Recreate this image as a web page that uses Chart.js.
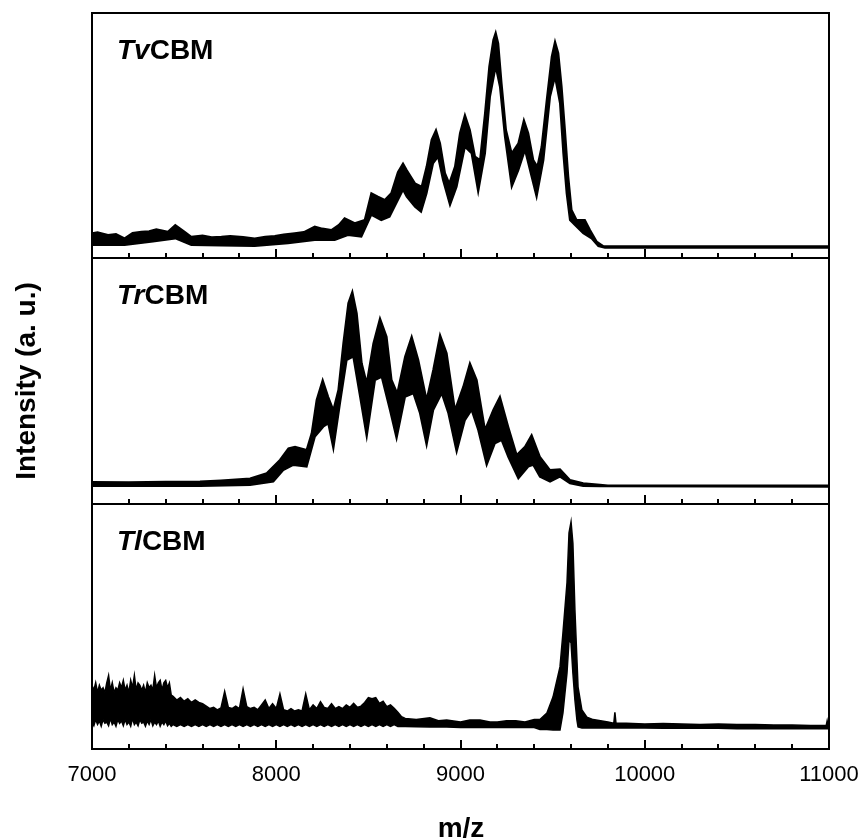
<!DOCTYPE html>
<html>
<head>
<meta charset="utf-8">
<script src="https://cdn.jsdelivr.net/npm/chart.js@4.4.1/dist/chart.umd.min.js"></script>
<style>
  html, body { margin: 0; padding: 0; background: #fff; }
  #wrap { position: relative; width: 862px; height: 840px; }
  #wrap canvas { position: absolute; left: 0; top: 0; }
</style>
</head>
<body>
<div id="wrap">
  <canvas id="tv" width="862" height="840"></canvas>
  <canvas id="tr" width="862" height="840"></canvas>
  <canvas id="tl" width="862" height="840"></canvas>
</div>
<script>
// x axis
const majorTicks = [7000, 8000, 9000, 10000, 11000];
const minorTicks = [7200, 7400, 7600, 7800, 8200, 8400, 8600, 8800, 9200, 9400, 9600, 9800,
  10200, 10400, 10600, 10800];

// TvCBM (top panel): upper and lower edge of the noisy trace, intensity in % of panel height
const tvHighMz = [7000, 7030, 7087, 7130, 7177, 7220, 7268, 7310, 7349, 7412, 7452, 7503, 7539, 7600, 7650,
  7702, 7750, 7820, 7883, 7940, 7992, 8040, 8100, 8150, 8209, 8250, 8299, 8340, 8371, 8426, 8480, 8516,
  8552, 8589, 8624, 8660, 8688, 8708, 8753, 8789, 8816, 8843, 8867, 8889, 8916, 8939, 8970, 8997, 9024,
  9051, 9079, 9106, 9133, 9156, 9178, 9191, 9205, 9223, 9247, 9278, 9314, 9344, 9368, 9395, 9417, 9440,
  9468, 9495, 9513, 9531, 9549, 9567, 9585, 9603, 9630, 9675, 9703, 9739, 9775, 9850, 11000];
const tvHigh = [10.1, 10.5, 9.4, 9.8, 8, 10.2, 10.7, 10.9, 11.7, 10.7, 13.5, 10.7, 8.7, 9.2, 8.5,
  8.7, 9, 8.6, 8, 8.7, 9, 9.6, 10.1, 10.6, 12.8, 12, 11.4, 13.5, 16.2, 14.2, 15.5, 26.4,
  25, 23.7, 26.4, 35, 38.6, 35.9, 30.5, 29.1, 37.3, 48.2, 52.2, 46.8, 34.6, 30.5, 37.3, 50.9, 58.4,
  52.2, 41.4, 40, 59.1, 78.1, 89, 92, 87.6, 71.3, 52.2, 42.7, 46.8, 56.3, 50.9, 40, 37.3, 45.4,
  64.5, 82.2, 88.3, 83.6, 69.9, 52.2, 33.2, 19.6, 15.5, 15.5, 11.4, 6.7, 4.9, 4.8, 4.8];
const tvLowMz = [7000, 7177, 7331, 7452, 7539, 7700, 7883, 8064, 8209, 8317, 8389, 8462, 8516, 8570, 8615,
  8688, 8708, 8753, 8786, 8816, 8851, 8878, 8905, 8943, 8979, 9024, 9060, 9096, 9133, 9160, 9191, 9214,
  9241, 9278, 9314, 9350, 9386, 9413, 9450, 9486, 9513, 9540, 9558, 9576, 9594, 9621, 9666, 9711, 9748,
  9784, 11000];
const tvLow = [5.3, 5.3, 6.7, 8, 5.3, 5.1, 4.9, 6, 7.3, 7.3, 9.4, 8.7, 17.6, 15.5, 16.9,
  27.8, 25, 20.9, 18.9, 26.4, 38.6, 41.4, 31.8, 21.6, 29.1, 45.4, 42.7, 27.1, 42.7, 65.8, 78.1, 69.9,
  49.5, 29.1, 35.9, 44.1, 33.2, 25, 40, 65.8, 74, 63.1, 42.7, 26.4, 15.5, 13.5, 10.1, 8, 4.9,
  4.2, 4.2];

// TrCBM (middle panel)
const trHighMz = [7000, 7200, 7400, 7586, 7700, 7858, 7948, 8020, 8066, 8102, 8165, 8192, 8219, 8252, 8282,
  8310, 8337, 8364, 8391, 8413, 8437, 8464, 8491, 8527, 8563, 8599, 8626, 8657, 8699, 8735, 8771, 8816,
  8852, 8889, 8925, 8970, 9015, 9051, 9088, 9133, 9178, 9214, 9259, 9305, 9350, 9386, 9431, 9486, 9540,
  9594, 9666, 9757, 9800, 11000];
const trHigh = [8.9, 8.8, 9, 9.1, 9.6, 10.4, 12.5, 17.9, 22.6, 23.3, 22, 28.7, 42.3, 50.4, 43.6,
  38.2, 46.3, 65.3, 81.6, 86.3, 77.5, 57.2, 49.1, 65.3, 75.5, 68, 50.4, 45, 59.9, 68, 58.5, 42.3,
  54.5, 68.7, 61.3, 38.2, 47.7, 57.2, 50.4, 30.1, 38.2, 43.6, 31.4, 19.9, 23.3, 28, 19.2, 13.8, 14.1,
  9.8, 8.4, 7.8, 7.5, 7.5];
const trLowMz = [7000, 7586, 7858, 7984, 8038, 8093, 8165, 8210, 8255, 8282, 8310, 8346, 8382, 8418, 8455,
  8491, 8536, 8572, 8617, 8653, 8699, 8744, 8780, 8816, 8852, 8898, 8934, 8979, 9024, 9060, 9096, 9142,
  9187, 9223, 9259, 9314, 9368, 9395, 9431, 9486, 9540, 9594, 9666, 9757, 11000];
const trLow = [7.3, 7.3, 7.7, 9.1, 13.8, 15.9, 15.2, 27.4, 31.4, 32.8, 22.6, 40.9, 58.5, 59.9, 43.6,
  27.4, 50.4, 51.7, 38.2, 26.7, 43.6, 45, 36.9, 24, 38.2, 45, 36.9, 21.3, 34.1, 38.2, 30.1, 15.9,
  24.7, 26, 19.2, 10.4, 15.2, 15.9, 11.1, 9.1, 11.1, 8.4, 7.3, 7.2, 7];

// TlCBM (bottom panel)
const tlMz = [7000, 7010, 7020, 7030, 7040, 7050, 7060, 7070, 7080, 7090, 7100, 7110, 7120, 7130, 7140,
  7150, 7160, 7170, 7180, 7190, 7200, 7210, 7220, 7230, 7240, 7250, 7260, 7270, 7280, 7290, 7300, 7310,
  7320, 7330, 7340, 7350, 7360, 7370, 7380, 7390, 7400, 7410, 7420, 7430,
  7440, 7460, 7480, 7500, 7520, 7540, 7560, 7580, 7600, 7620, 7640, 7660, 7680, 7700, 7720, 7740, 7760,
  7780, 7800, 7820, 7840, 7860, 7880, 7900, 7920, 7940, 7960, 7980, 8000, 8020, 8040, 8060, 8080, 8100,
  8120, 8140, 8160, 8180, 8200, 8220, 8240, 8260, 8280, 8300, 8320, 8340, 8360, 8380, 8400, 8420, 8440,
  8460, 8480, 8500, 8520, 8540, 8560, 8580, 8600, 8620, 8640, 8660, 8680, 8700,
  8760, 8834, 8880, 8925, 9000, 9050, 9106, 9160, 9200, 9250, 9300, 9350, 9400, 9431, 9469, 9502, 9540,
  9556, 9578, 9589, 9600, 9610, 9621, 9632, 9638, 9659, 9686, 9720, 9800, 9832, 9838, 9844, 9900, 10000,
  10100, 10200, 10300, 10400, 10500, 10600, 10700, 10800, 10900, 10985, 10990, 10995, 11000];
const tlHigh = [26, 24, 27, 23, 26, 24, 25, 23, 27, 30, 24, 27, 23, 25, 24,
  27, 25, 28, 24, 26, 23, 28, 25, 30, 24, 27, 26, 24, 26, 23, 27, 25,
  26, 24, 30, 25, 27, 28, 24, 27, 28, 25, 27, 22,
  21.5, 20, 21, 19.5, 20.5, 19, 20, 19, 18.5, 17.5, 16.5, 17, 16, 16.8, 23.5, 17, 16.5,
  17.5, 16.5, 24.5, 17.3, 16.5, 17, 16, 18, 20, 16.5, 18.5, 16.5, 22.5, 16, 15.5, 16.5, 15.5,
  16, 15.5, 22.5, 16, 18, 16.5, 19.3, 17, 16.5, 18.5, 16.5, 17.3, 16.5, 18, 17, 18.6, 17,
  17.5, 19, 21, 20.5, 21, 18.6, 19.5, 17.3, 18, 16.6, 15, 13.2, 12.5,
  12, 12.7, 11.5, 11.8, 11, 11.8, 11.8, 11, 11, 11.5, 11.5, 11, 12, 12, 14.7, 21.2, 33.5,
  47.3, 67.8, 88.2, 92.7, 84, 56.7, 36.3, 25.3, 15.9, 13, 12, 11, 10.5, 15, 10.5, 10.5, 10.2,
  10.4, 10.2, 10, 10.2, 10, 10, 9.8, 9.8, 9.6, 9.6, 11.5, 9.6, 9.5];
const tlLow = [11, 9.5, 12, 10, 11.5, 9.3, 12, 10.5, 11, 9.5, 12.5, 10, 11, 9.3, 12,
  10.5, 11.5, 9.5, 12, 10, 11, 9.3, 12.5, 10, 11, 9.5, 12, 10.5, 11, 9.3, 11.5, 10,
  12, 9.5, 11, 10, 11.5, 9.3, 11, 10, 11.5, 9.5, 10.5, 9.3,
  10, 9.2, 10, 9.2, 10, 9.2, 10, 9.2, 10, 9.2, 10, 9.2, 10, 9.2, 10, 9.2, 10,
  9.2, 10, 9.2, 10, 9.2, 10, 9.2, 10, 9.2, 10, 9.2, 10, 9.2, 10, 9.2, 10, 9.2,
  10, 9.2, 10, 9.2, 10, 9.2, 10, 9.2, 10, 9.2, 10, 9.2, 10, 9.2, 10, 9.2, 10,
  9.2, 10, 9.2, 10, 9.2, 10, 9.2, 10, 9.2, 10, 9.2, 9.2, 9.2,
  9.1, 9, 9, 9, 8.8, 8.8, 8.8, 8.8, 8.8, 8.8, 8.8, 8.8, 8.8, 8, 8, 7.8, 7.8,
  14.7, 31, 44.5, 43.3, 31, 20, 11.8, 9, 8.6, 8.6, 8.6, 8.6, 8.6, 8.6, 8.6, 8.6, 8.6,
  8.5, 8.5, 8.5, 8.5, 8.3, 8.3, 8.3, 8.3, 8.3, 8.3, 8.3, 8.3, 8.3];

const FONT = '"Liberation Sans", Arial, Helvetica, sans-serif';

const panels = [
  { id: 'tv', italic: 'Tv', hiMz: tvHighMz, hi: tvHigh, loMz: tvLowMz, lo: tvLow, top: 13, bottom: 258, axis: false, lw: 2 },
  { id: 'tr', italic: 'Tr', hiMz: trHighMz, hi: trHigh, loMz: trLowMz, lo: trLow, top: 258, bottom: 504, axis: false, lw: 2 },
  { id: 'tl', italic: 'Tl', hiMz: tlMz, hi: tlHigh, loMz: tlMz, lo: tlLow, top: 504, bottom: 749, axis: true, lw: 1.5 },
];

function toPoints(mz, vals) {
  return mz.map((x, i) => ({ x: x, y: vals[i] }));
}

// frame, inward ticks and labels for one panel
const panelDecor = {
  id: 'panelDecor',
  afterDraw(chart, args, opts) {
    const ctx = chart.ctx;
    const area = chart.chartArea;
    const xs = chart.scales.x;
    ctx.save();
    ctx.strokeStyle = '#000';
    ctx.fillStyle = '#000';
    ctx.lineWidth = 2;
    ctx.strokeRect(area.left, area.top, area.right - area.left, area.bottom - area.top);

    majorTicks.concat(minorTicks).forEach(v => {
      const px = Math.round(xs.getPixelForValue(v));
      const len = majorTicks.includes(v) ? 9 : 5;
      ctx.beginPath();
      ctx.moveTo(px, area.bottom);
      ctx.lineTo(px, area.bottom - len);
      ctx.stroke();
    });

    ctx.textBaseline = 'middle';
    ctx.textAlign = 'left';
    ctx.font = 'italic bold 28px ' + FONT;
    ctx.fillText(opts.italic, 117, area.top + 38);
    const w = ctx.measureText(opts.italic).width;
    ctx.font = 'bold 28px ' + FONT;
    ctx.fillText('CBM', 117 + w, area.top + 38);

    if (opts.titles) {
      ctx.textAlign = 'center';
      ctx.textBaseline = 'alphabetic';
      ctx.font = 'bold 28px ' + FONT;
      ctx.fillText('m/z', 461, 837);
      ctx.translate(35, 381);
      ctx.rotate(-Math.PI / 2);
      ctx.fillText('Intensity (a. u.)', 0, 0);
    }
    ctx.restore();
  }
};

panels.forEach(p => {
  const ctx = document.getElementById(p.id).getContext('2d');
  new Chart(ctx, {
    type: 'line',
    data: {
      datasets: [
        {
          data: toPoints(p.loMz, p.lo),
          borderColor: '#000',
          borderWidth: p.lw,
          pointRadius: 0,
          fill: false,
        },
        {
          data: toPoints(p.hiMz, p.hi),
          borderColor: '#000',
          borderWidth: p.lw,
          pointRadius: 0,
          backgroundColor: '#000',
          fill: '-1',
        },
      ],
    },
    options: {
      responsive: false,
      animation: false,
      events: [],
      layout: {
        padding: { left: 92, right: 33, top: p.top, bottom: p.axis ? 0 : 840 - p.bottom },
      },
      plugins: {
        legend: { display: false },
        tooltip: { enabled: false },
        panelDecor: { italic: p.italic, titles: p.axis },
      },
      scales: {
        x: {
          type: 'linear',
          min: 7000,
          max: 11000,
          display: p.axis,
          grid: { display: true, drawOnChartArea: false, drawTicks: true, tickLength: 11, color: 'rgba(0,0,0,0)' },
          border: { display: false },
          afterFit: p.axis ? (scale) => { scale.height = 840 - 749; } : undefined,
          ticks: {
            stepSize: 1000,
            padding: 2,
            color: '#000',
            font: { family: FONT, size: 22 },
            maxRotation: 0,
            callback: (v) => String(v),
          },
        },
        y: {
          display: false,
          min: 0,
          max: 100,
        },
      },
    },
    plugins: [panelDecor],
  });
});
</script>
</body>
</html>
